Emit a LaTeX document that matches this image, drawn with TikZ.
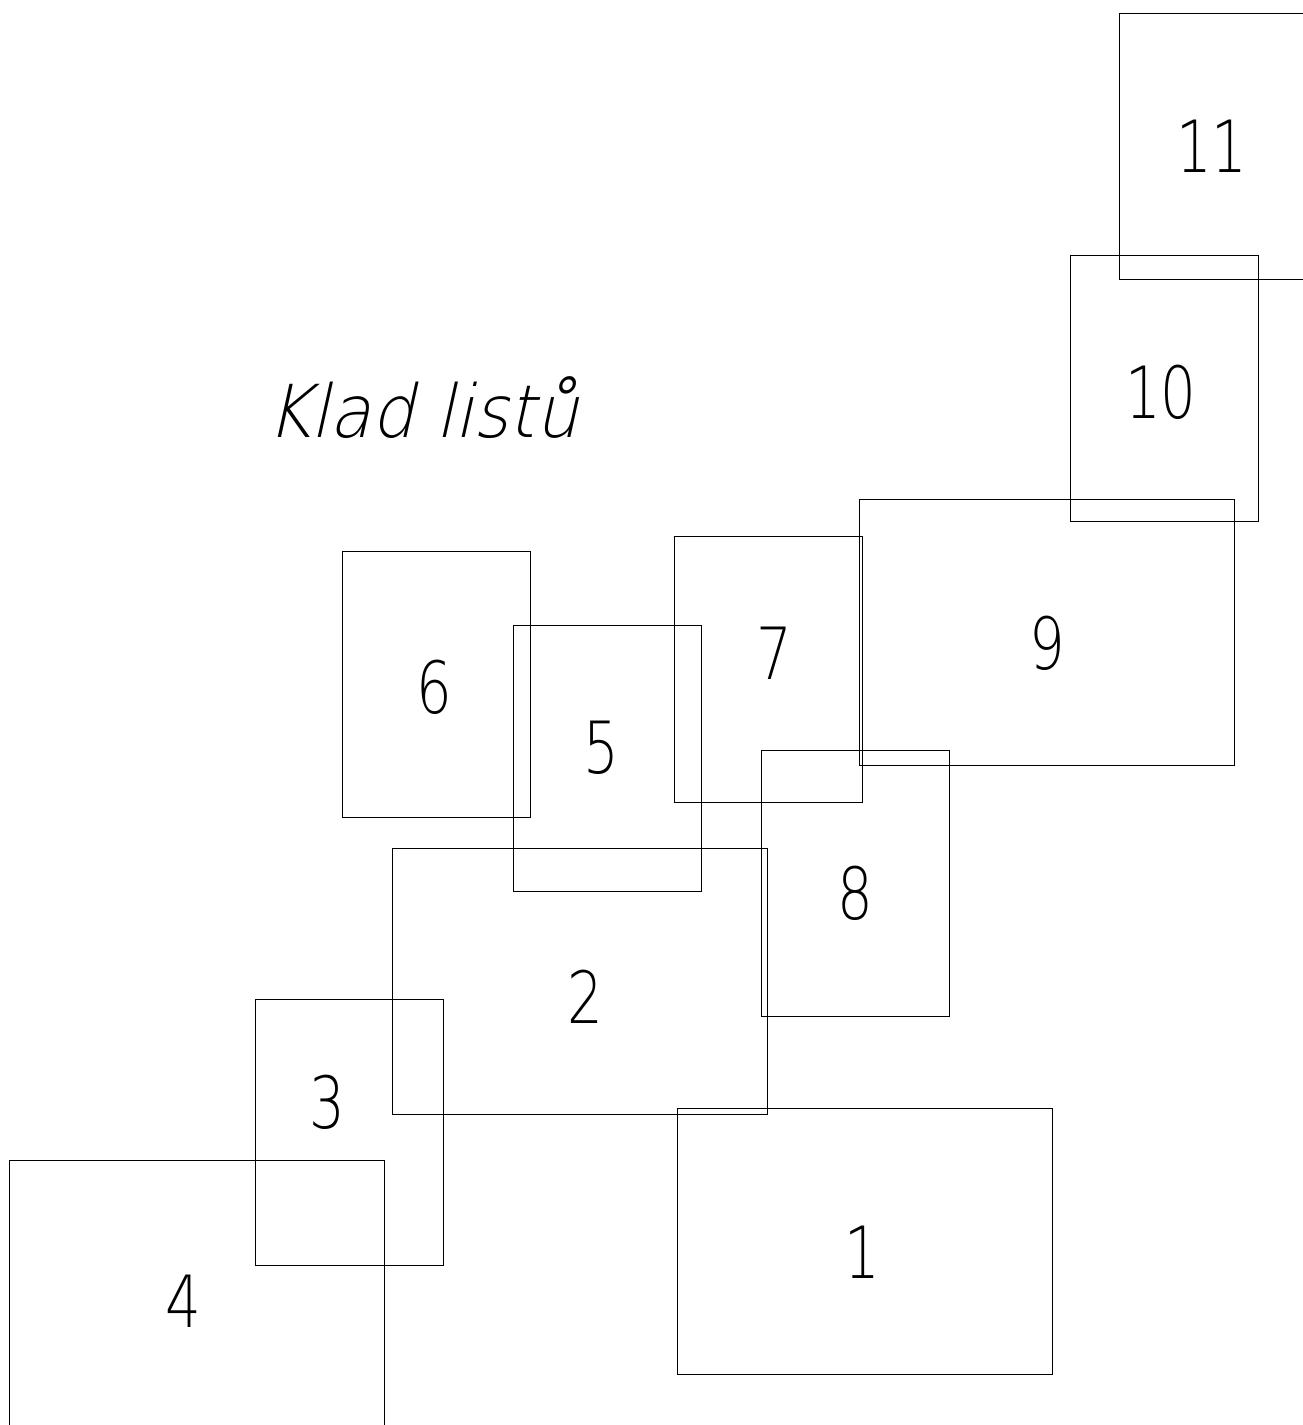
\documentclass[tikz,border=0pt]{standalone}
\usepackage{fontspec}
\newfontfamily\numfont[FakeStretch=0.78]{DejaVu Sans ExtraLight}
\newfontfamily\titlefont[FakeSlant=0.22,FakeStretch=0.93]{DejaVu Sans ExtraLight}
\begin{document}
\begin{tikzpicture}[x=1pt,y=-1pt,
  sheet/.style={draw=black,line width=1pt,anchor=north west,inner sep=0pt,outer sep=0pt},
  wide/.style={sheet,minimum width=375pt,minimum height=266pt},
  tall/.style={sheet,minimum width=188pt,minimum height=266pt},
  num/.style={anchor=base,inner sep=0pt,font=\numfont\fontsize{72}{72}\selectfont},
  ttl/.style={anchor=base west,inner sep=0pt,font=\titlefont\fontsize{73}{73}\selectfont}]
\useasboundingbox (0,0) rectangle (1303,1425);
\begin{scope}
\clip (0,0) rectangle (1303,1425);
\node[tall] (s11) at (1119,13) {};
\node[tall] (s10) at (1070,255) {};
\node[wide] (s9) at (859,499) {};
\node[tall] (s7) at (674,536) {};
\node[tall] (s6) at (342,551) {};
\node[tall] (s5) at (513,625) {};
\node[tall] (s8) at (761,750) {};
\node[wide] (s2) at (392,848) {};
\node[tall] (s3) at (255,999) {};
\node[wide] (s1) at (677,1108) {};
\node[wide] (s4) at (9,1160) {};
\end{scope}
\node[num] (n11) at (1212,172) {11};
\node[num] (n10) at (1161,418) {10};
\node[num] (n9) at (1047,669) {9};
\node[num] (n7) at (774,679) {7};
\node[num] (n6) at (434,713) {6};
\node[num] (n5) at (601,773) {5};
\node[num] (n8) at (855,919) {8};
\node[num] (n2) at (585,1023) {2};
\node[num] (n3) at (327,1128) {3};
\node[num] (n1) at (862,1278) {1};
\node[num] (n4) at (183,1327) {4};
\node[ttl] (title) at (266,437) {Klad listů};
\end{tikzpicture}
\end{document}
